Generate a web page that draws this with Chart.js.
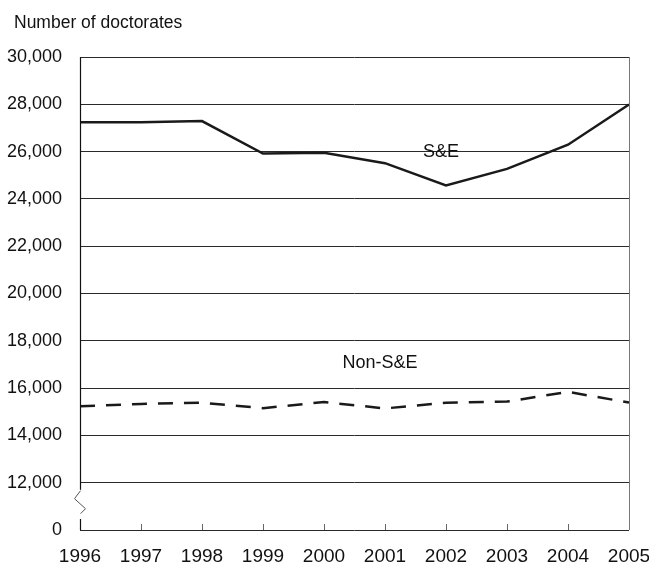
<!DOCTYPE html>
<html>
<head>
<meta charset="utf-8">
<script src="https://cdn.jsdelivr.net/npm/chart.js@4/dist/chart.umd.min.js"></script>
<style>
  html, body { margin: 0; padding: 0; background: #fff; }
  #wrap { width: 649px; height: 571px; position: relative; }
</style>
</head>
<body>
<div id="wrap"><canvas id="myChart"></canvas></div>
<script>
const years = ['1996', '1997', '1998', '1999', '2000', '2001', '2002', '2003', '2004', '2005'];
const seValues = [27240, 27240, 27290, 25920, 25950, 25510, 24570, 25270, 26290, 27990];
const nonSeValues = [15230, 15330, 15380, 15150, 15410, 15140, 15380, 15430, 15840, 15390];
const yTickValues = [10000, 12000, 14000, 16000, 18000, 20000, 22000, 24000, 26000, 28000, 30000];
const yTickLabels = ['0', '12,000', '14,000', '16,000', '18,000', '20,000', '22,000', '24,000', '26,000', '28,000', '30,000'];
const seriesNames = ['S&E', 'Non-S&E'];
const axisTitle = 'Number of doctorates';

const FONT = '"Liberation Sans Narrow", "Arial Narrow", "Liberation Sans", Arial, sans-serif';

// draws the title, the in-chart labels, the axis break and the frame
const decorations = {
    id: 'decorations',
    afterDraw(chart) {
        const c = chart.ctx;
        const area = chart.chartArea;
        const x = chart.scales.x;
        const y = chart.scales.y;
        c.save();

        c.fillStyle = '#111';
        c.font = '17.5px ' + FONT;
        c.textAlign = 'left';
        c.textBaseline = 'alphabetic';
        c.fillText(axisTitle, 14, 28);

        c.font = '18px ' + FONT;
        c.textAlign = 'center';
        c.textBaseline = 'middle';
        c.fillText(seriesNames[0], x.getPixelForValue(6) - 5, y.getPixelForValue(26000));
        c.fillText(seriesNames[1], x.getPixelForValue(5) - 5, y.getPixelForValue(17050));

        // right frame line
        c.strokeStyle = '#777';
        c.lineWidth = 1;
        c.beginPath();
        c.moveTo(Math.round(area.right) + 0.5, area.top);
        c.lineTo(Math.round(area.right) + 0.5, area.bottom);
        c.stroke();

        // small ticks on the x axis, pointing up
        c.strokeStyle = '#666';
        c.beginPath();
        for (let i = 1; i < years.length - 1; i++) {
            const px = Math.round(x.getPixelForValue(i)) + 0.5;
            c.moveTo(px, area.bottom);
            c.lineTo(px, area.bottom - 6);
        }
        c.stroke();

        // left axis with break
        const lx = Math.round(area.left) + 0.5;
        const y12 = y.getPixelForValue(12000);
        c.strokeStyle = '#111';
        c.lineWidth = 1.2;
        c.beginPath();
        c.moveTo(lx, area.top);
        c.lineTo(lx, y12 + 7);
        c.moveTo(lx, area.bottom - 11);
        c.lineTo(lx, area.bottom);
        c.stroke();
        c.strokeStyle = '#555';
        c.lineWidth = 1;
        c.beginPath();
        c.moveTo(lx, y12 + 8);
        c.lineTo(lx - 6, y12 + 16);
        c.lineTo(lx + 5, y12 + 26);
        c.lineTo(lx, y12 + 31);
        c.stroke();

        c.restore();
    }
};

const ctx = document.getElementById('myChart').getContext('2d');

const chart = new Chart(ctx, {
    type: 'line',
    data: {
        labels: years,
        datasets: [{
            label: seriesNames[0],
            data: seValues,
            borderColor: '#1a1a1a',
            borderWidth: 2.5,
            tension: 0,
            pointRadius: 0
        }, {
            label: seriesNames[1],
            data: nonSeValues,
            borderColor: '#1a1a1a',
            borderWidth: 2.5,
            borderDash: [15, 11],
            tension: 0,
            pointRadius: 0
        }]
    },
    options: {
        responsive: true,
        maintainAspectRatio: false,
        animation: false,
        layout: {
            padding: { top: 57, right: 20, left: 0, bottom: 0 }
        },
        plugins: {
            legend: { display: false },
            tooltip: { enabled: false }
        },
        scales: {
            x: {
                type: 'category',
                offset: false,
                grid: { display: false },
                border: { display: false },
                ticks: {
                    color: '#111',
                    padding: 7,
                    maxRotation: 0,
                    autoSkip: false,
                    font: { family: FONT, size: 19 }
                },
                afterFit: scale => {
                    scale.height = 41;
                    scale.paddingLeft = 0;
                    scale.paddingRight = 0;
                }
            },
            y: {
                min: 10000,
                max: 30000,
                afterBuildTicks: scale => {
                    scale.ticks = yTickValues.map(v => ({ value: v }));
                },
                grid: {
                    color: '#2a2a2a',
                    lineWidth: 1,
                    drawTicks: false
                },
                border: { display: false },
                ticks: {
                    color: '#111',
                    padding: 18,
                    font: { family: FONT, size: 18 },
                    callback: value => yTickLabels[yTickValues.indexOf(value)]
                },
                afterFit: scale => {
                    scale.width = 80;
                    scale.paddingTop = 0;
                    scale.paddingBottom = 0;
                }
            }
        }
    },
    plugins: [decorations]
});
</script>
</body>
</html>
